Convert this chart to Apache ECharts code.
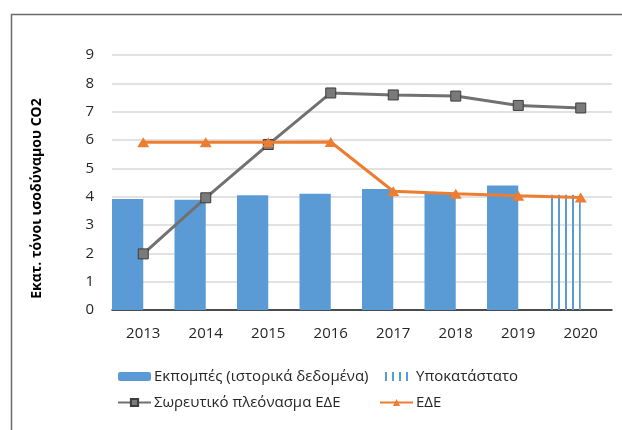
<!DOCTYPE html>
<html>
<head>
<meta charset="utf-8">
<script src="https://cdn.jsdelivr.net/npm/echarts@6/dist/echarts.min.js"></script>
<style>
  html, body { margin: 0; padding: 0; background: #fff; }
  #chart { width: 622px; height: 430px; }
</style>
</head>
<body>
<div id="chart"></div>
<script>
// Years on the category axis
const years = ['2013', '2014', '2015', '2016', '2017', '2018', '2019', '2020'];
// Historical emissions (Mt CO2 eq.)
const emissionsHistorical = [3.92, 3.89, 4.05, 4.10, 4.27, 4.10, 4.39, null];
// Proxy estimate for the latest year
const emissionsProxy = [null, null, null, null, null, null, null, 4.07];
// Cumulative surplus of the ESD allocation
const cumulativeSurplus = [1.98, 3.96, 5.84, 7.66, 7.59, 7.55, 7.22, 7.13];
// Annual ESD allocation
const esdAllocation = [5.92, 5.92, 5.92, 5.93, 4.19, 4.10, 4.03, 3.97];
// Value-axis ticks
const yTicks = [0, 1, 2, 3, 4, 5, 6, 7, 8, 9];

const names = {
  hist: 'Εκπομπές (ιστορικά δεδομένα)',
  proxy: 'Υποκατάστατο',
  surplus: 'Σωρευτικό πλεόνασμα ΕΔΕ',
  esd: 'ΕΔΕ'
};

const BLUE = '#5B9BD5';
const ORANGE = '#ED7D31';
const FONT = '"Open Sans", "Noto Sans", sans-serif';

// Vertical-line hatch used for the proxy bar
const hatch = document.createElement('canvas');
hatch.width = 7;
hatch.height = 4;
const hctx = hatch.getContext('2d');
hctx.fillStyle = BLUE;
hctx.fillRect(5, 0, 2, 4);

const legendBase = {
  orient: 'vertical',
  top: 364,
  itemWidth: 33,
  itemHeight: 9,
  itemGap: 11,
  textStyle: { fontFamily: FONT, fontSize: 15, color: '#262626', padding: [0, 0, 0, -2] }
};

const chart = echarts.init(document.getElementById('chart'), null, { renderer: 'canvas' });

chart.setOption({
  animation: false,
  backgroundColor: '#fff',
  textStyle: { fontFamily: FONT },
  graphic: [{
    type: 'rect',
    shape: { x: 11.5, y: 14.5, width: 700, height: 500 },
    style: { fill: 'none', stroke: '#6b6b6b', lineWidth: 1.5 },
    silent: true,
    z: -1
  }],
  grid: { left: 112, right: 10, top: 55, bottom: 120 },
  legend: [
    Object.assign({}, legendBase, { left: 112, data: [names.hist, names.surplus] }),
    Object.assign({}, legendBase, { left: 374, data: [names.proxy, names.esd] })
  ],
  xAxis: {
    type: 'category',
    data: years,
    boundaryGap: true,
    axisTick: { show: false },
    axisLine: { lineStyle: { color: '#1a1a1a', width: 1.5 } },
    axisLabel: { fontFamily: FONT, fontSize: 15, color: '#262626', margin: 16 }
  },
  yAxis: {
    type: 'value',
    min: yTicks[0],
    max: yTicks[yTicks.length - 1],
    interval: 1,
    name: 'Εκατ. τόνοι ισοδύναμου CO2',
    nameLocation: 'middle',
    nameGap: 68,
    nameTextStyle: {
      fontFamily: FONT, fontSize: 14, fontWeight: 'bold', color: '#000',
      padding: [0, 32, 0, 0]
    },
    axisLine: { show: false },
    axisTick: { show: false },
    splitLine: { lineStyle: { color: '#d9d9d9', width: 1.5 } },
    axisLabel: { fontFamily: FONT, fontSize: 15, color: '#262626', margin: 18 }
  },
  series: [{
    name: names.hist,
    type: 'bar',
    stack: 'emissions',
    data: emissionsHistorical,
    barGap: '0%',
    barCategoryGap: '0%',
    itemStyle: { color: BLUE }
  }, {
    name: names.proxy,
    type: 'bar',
    stack: 'emissions',
    data: emissionsProxy,
    itemStyle: { color: { image: hatch, repeat: 'repeat' } }
  }, {
    // empty companion slot that keeps the bars in the left half of each year
    name: 'spacer',
    type: 'bar',
    data: years.map(() => null),
    itemStyle: { color: 'transparent' },
    silent: true
  }, {
    name: names.surplus,
    type: 'line',
    data: cumulativeSurplus,
    symbol: 'rect',
    symbolSize: 10,
    lineStyle: { color: '#717171', width: 3 },
    itemStyle: { color: '#7a7a7a', borderColor: '#3d3d3d', borderWidth: 1 },
    z: 3
  }, {
    name: names.esd,
    type: 'line',
    data: esdAllocation,
    symbol: 'triangle',
    symbolSize: [12, 10],
    lineStyle: { color: ORANGE, width: 3 },
    itemStyle: { color: ORANGE },
    z: 4
  }]
});
</script>
</body>
</html>
